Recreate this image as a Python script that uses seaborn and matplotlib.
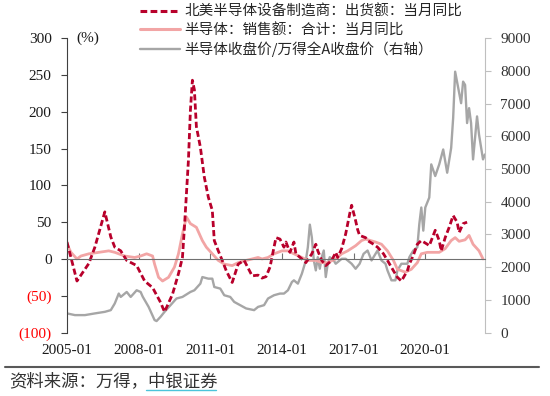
import numpy as np
import pandas as pd
import seaborn as sns
import matplotlib.pyplot as plt
from matplotlib.lines import Line2D
from matplotlib.ticker import FuncFormatter

# months counted from 2005-01
equip_month = [0, 5, 11, 14, 19, 22, 24, 27, 30, 35, 39, 43, 47, 49, 53, 56, 58, 59, 61, 62,
               63, 64, 65, 67, 69, 71, 73, 74, 76, 78, 80, 83, 86, 89, 93, 96, 98, 100, 102, 104,
               105, 107, 109, 110, 112, 114, 115, 118, 120, 123, 125, 126, 128, 130, 133, 135, 136, 138, 140, 142,
               143, 145, 146, 147, 150, 151, 154, 156, 159, 161, 164, 166, 168, 171, 172, 174, 176, 178, 181, 182,
               185, 187, 188, 190, 192, 194, 196, 197, 199, 201]
equip_yoy = [23, -30, -6, 16, 64, 30, 16, 11, -2, -9, -30, -39, -59, -72, -48, -20, 2, 43, 134, 202,
             243, 230, 180, 152, 111, 84, 66, 25, 11, -2, -16, -32, -7, -2, -23, -22, -26, -24, -11, 16,
             29, 27, 16, 23, 9, 23, 7, 0, -5, 7, 20, 11, -2, -9, -2, 9, 2, 14, 34, 61,
             73, 52, 40, 32, 29, 25, 20, 16, 7, -2, -16, -25, -30, -16, -7, 5, 20, 25, 20, 18,
             39, 25, 11, 29, 43, 59, 50, 36, 48, 50]

sales_month = [0, 2, 5, 7, 11, 16, 21, 24, 29, 34, 37, 40, 43, 44, 46, 48, 51, 54, 56, 58,
               60, 62, 65, 68, 70, 73, 76, 79, 83, 86, 90, 93, 96, 98, 101, 104, 108, 111, 114, 118,
               121, 125, 128, 131, 135, 138, 141, 145, 148, 150, 155, 158, 161, 164, 166, 170, 173, 176, 178, 181,
               187, 190, 193, 195, 197, 200, 202, 204, 207, 209]
sales_yoy = [20, 9, 0, 4, 7, 9, 11, 9, 4, 2, 4, 7, 4, -7, -25, -30, -25, -11, 7, 34,
             57, 48, 43, 25, 16, 7, -2, -7, -9, -5, -2, 0, 2, 0, 2, 7, 11, 11, 7, 2,
             -2, -2, -5, -5, 0, 7, 11, 18, 25, 27, 23, 20, 11, -2, -14, -18, -14, -5, 7, 9,
             9, 14, 25, 29, 24, 26, 32, 20, 11, 0]

ratio_month = [0, 4, 9, 14, 19, 22, 24, 26, 27, 30, 32, 35, 37, 38, 41, 44, 45, 47, 49, 52,
               55, 58, 62, 64, 67, 68, 71, 73, 74, 77, 79, 82, 84, 87, 90, 94, 96, 99, 101, 104,
               107, 109, 111, 113, 114, 116, 118, 120, 121, 122, 123, 124, 125, 126, 127, 128, 129, 130, 131, 132,
               134, 135, 137, 138, 140, 141, 143, 145, 147, 149, 151, 153, 155, 156, 158, 160, 161, 163, 165, 166,
               168, 171, 172, 174, 176, 177, 178, 179, 180, 182, 183, 185, 187, 189, 191, 193, 194, 195, 198, 199,
               200, 201, 202, 203, 204, 206, 207, 209, 210]
ratio_val = [584, 532, 532, 584, 632, 684, 888, 1191, 1088, 1240, 1088, 1292, 1240, 1100, 784, 380, 350, 480, 632, 836,
             1040, 1088, 1240, 1292, 1495, 1696, 1647, 1647, 1392, 1343, 1140, 1088, 936, 836, 736, 684, 784, 836, 1040, 1140,
             1191, 1191, 1292, 1544, 1596, 1495, 1800, 2204, 2608, 3300, 2912, 2204, 1900, 2304, 1951, 2304, 2508, 1696, 2103, 2304,
             2204, 2103, 2204, 2255, 2255, 2204, 2103, 1950, 2103, 2407, 2508, 2204, 2407, 2508, 2204, 2103, 1900, 1596, 1596, 1900,
             2103, 2103, 2304, 2508, 2608, 3319, 3824, 3116, 3824, 4128, 5143, 4787, 5143, 5599, 4888, 5647, 6559, 7979, 7015, 7675,
             7574, 6407, 6863, 6407, 5295, 6611, 6055, 5295, 5447]

tick_month = [0, 36, 72, 108, 144, 180]
tick_text = ['2005-01', '2008-01', '2011-01', '2014-01', '2017-01', '2020-01']

labels = ['北美半导体设备制造商：出货额：当月同比',
          '半导体：销售额：合计：当月同比',
          '半导体收盘价/万得全A收盘价（右轴）']

sns.set_style('ticks')
plt.rcParams['font.family'] = ['Liberation Serif', 'Noto Sans CJK SC']
cjk = ['Noto Sans CJK SC', 'DejaVu Sans']

fig = plt.figure(figsize=(5.5, 3.96), dpi=100)
ax = fig.add_axes([67/550, 1-332.5/396, (485-67)/550, (332.5-38.3)/396])
ax2 = ax.twinx()
ax.set_zorder(ax2.get_zorder() + 1)
ax.patch.set_visible(False)

sns.lineplot(x=ratio_month, y=ratio_val, ax=ax2, color='#A6A6A6', lw=1.7)
sns.lineplot(x=sales_month, y=sales_yoy, ax=ax, color='#F2A5A5', lw=2.0)
sns.lineplot(x=equip_month, y=equip_yoy, ax=ax, color='#B8002B', lw=2.0, linestyle=(0, (2.2, 1.1)))

ax.set_xlim(0, 210)
ax.set_ylim(-100, 300)
ax.set_yticks(range(-100, 301, 50))
ax.yaxis.set_major_formatter(FuncFormatter(lambda v, p: f'({abs(int(v))})' if v < 0 else f'{int(v)}'))
for t in ax.get_yticklabels():
    t.set_color('#FF0000' if t.get_text().startswith('(') else '#1a1a1a')
ax.set_xticks(tick_month)
ax.set_xticklabels(tick_text)
ax.spines['bottom'].set_position(('data', 0))
ax.spines['bottom'].set_color('#707070')
ax.spines['left'].set_color('#404040')
ax.spines['top'].set_visible(False)
ax.spines['right'].set_visible(False)
ax.tick_params(axis='x', direction='in', length=4, color='#707070', pad=61, labelsize=11, labelcolor='#1a1a1a')
ax.tick_params(axis='y', direction='out', length=4, color='#404040', pad=7, labelsize=11)
ax.set_xlabel('')
ax.set_ylabel('')

ax2.set_ylim(0, 9000)
ax2.set_yticks(range(0, 9001, 1000))
for s in ['top', 'left', 'bottom']:
    ax2.spines[s].set_visible(False)
ax2.spines['right'].set_color('#BFBFBF')
ax2.tick_params(axis='y', direction='out', length=4, color='#BFBFBF', pad=7, labelsize=11, labelcolor='#333333')
ax2.set_ylabel('')

ax.text(0.022, 1.0, '(%)', transform=ax.transAxes, fontsize=11, va='center', ha='left', color='#1a1a1a')

handles = [Line2D([], [], color='#B8002B', lw=2.2, linestyle=(0, (2.2, 1.1))),
           Line2D([], [], color='#F2A5A5', lw=2.2),
           Line2D([], [], color='#A6A6A6', lw=1.7)]
fig.legend(handles, labels, loc='upper left', bbox_to_anchor=(140/550, 1-5/396), frameon=False,
           borderpad=0, borderaxespad=0, handlelength=2.75, handletextpad=0.3, labelspacing=0.3,
           prop={'family': cjk, 'size': 10.5}, labelcolor='#262626')

fig.add_artist(Line2D([5/550, 539/550], [1-367/396]*2, transform=fig.transFigure, color='#595959', lw=1.5))
fig.text(9/550, 1-381/396, '资料来源：万得，中银证券', family=cjk, fontsize=12.5, va='center', ha='left',
         color='#333333', style='italic')
fig.add_artist(Line2D([146/550, 216/550], [1-390/396]*2, transform=fig.transFigure, color='#4BC4DA', lw=1))

fig.savefig('out.png', dpi=100)
